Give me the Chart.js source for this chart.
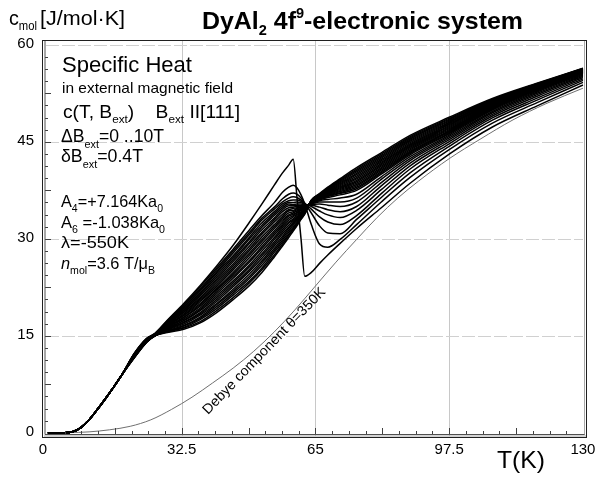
<!DOCTYPE html>
<html><head><meta charset="utf-8">
<script src="https://cdn.jsdelivr.net/npm/chart.js"></script>
<style>html,body{margin:0;padding:0;background:#fff;}#wrap{width:598px;height:477px;position:relative;}</style>
</head><body><div id="wrap"><canvas id="c" width="598" height="477"></canvas></div>
<script>
// ---------------- data ----------------
const xTickValues = [0, 32.5, 65, 97.5, 130];
const xTickLabels = ['0', '32.5', '65', '97.5', '130'];
const yTickValues = [0, 15, 30, 45, 60];
const yTickLabels = ['0', '15', '30', '45', '60'];
const fieldValues = [0,0.4,0.8,1.2,1.6,2.0,2.4,2.8,3.2,3.6,4.0,4.4,4.8,5.2,5.6,6.0,6.4,6.8,7.2,7.6,8.0,8.4,8.8,9.2,9.6,10.0];

// common low-temperature part (all fields coincide)
const lowT = [0, 4, 6, 8, 10, 12, 14, 16, 18];
const lowC = [0, 0, 0.15, 0.8, 2.0, 3.6, 5.3, 7.1, 9.0];

// temperatures for the field dependent part
const gridT = [21, 24, 26, 29, 33, 37, 41, 45, 49, 52, 55, 57, 58.5, 59.6, 60.5, 61.5, 62.4, 64, 66, 68, 71, 75, 81, 88, 97.5, 108, 119, 130];

const c00 = [12.3,14.6,15.4,17.4,20.0,22.8,25.8,29.0,32.6,35.4,38.3,40.2,41.4,42.3,36.5,30.0,24.2,24.8,26.2,27.5,29.3,31.6,34.8,38.6,43.1,47.3,50.6,53.8];
const c04 = [12.27,14.58,15.3,17.3,19.8,22.6,25.5,28.4,31.4,33.6,35.6,37.2,38.0,38.3,37.9,36.8,35.4,32.2,29.2,28.7,29.9,32.2,35.7,39.5,43.8,47.9,51.1,54.2];
const c08 = [12.24,14.55,15.3,17.3,19.7,22.3,25.2,28.1,31.0,33.2,34.9,36.2,36.9,37.1,36.9,36.3,35.5,34.0,32.0,30.9,30.8,33.0,36.4,40.2,44.3,48.35,51.5,54.5];
const c12 = [12.22,14.53,15.3,17.2,19.5,22.1,24.9,27.8,30.7,32.9,34.6,35.7,36.3,36.5,36.4,36.0,35.5,34.6,33.4,32.6,32.2,33.6,37.0,40.8,44.7,48.7,51.8,54.75];
const c16 = [12.19,14.5,15.3,17.1,19.4,21.9,24.7,27.4,30.3,32.5,34.2,35.4,35.9,36.0,36.0,35.8,35.4,35.0,34.3,33.7,33.3,34.4,37.6,41.3,45.05,49.0,52.1,54.95];
const c20 = [12.16,14.48,15.3,17.0,19.2,21.6,24.4,27.1,30.0,32.1,33.9,35.1,35.6,35.6,35.7,35.6,35.3,35.2,34.9,34.5,34.2,35.0,38.2,41.7,45.35,49.25,52.35,55.15];
const c24 = [12.13,14.46,15.2,16.9,19.0,21.4,24.1,26.8,29.6,31.8,33.6,34.8,35.4,35.3,35.4,35.4,35.2,35.3,35.4,35.2,35.0,35.7,38.7,42.1,45.6,49.5,52.55,55.3];
const c28 = [12.1,14.43,15.2,16.9,18.9,21.2,23.8,26.5,29.3,31.4,33.2,34.5,35.1,35.1,35.2,35.2,35.1,35.4,35.7,35.7,35.7,36.3,39.2,42.4,45.85,49.7,52.75,55.45];
const c32 = [12.08,14.41,15.2,16.8,18.7,20.9,23.5,26.1,28.9,31.0,32.9,34.2,34.8,34.9,35.0,35.1,35.0,35.5,35.9,36.1,36.3,36.9,39.6,42.7,46.05,49.9,52.9,55.6];
const c36 = [12.05,14.38,15.2,16.7,18.6,20.7,23.2,25.8,28.5,30.7,32.6,33.8,34.5,34.7,34.8,35.0,34.9,35.55,36.05,36.4,36.8,37.5,40.0,43.0,46.25,50.05,53.05,55.7];
const c40 = [12.02,14.36,15.2,16.6,18.4,20.5,22.9,25.5,28.2,30.3,32.2,33.5,34.3,34.4,34.7,34.9,34.9,35.6,36.15,36.55,37.0,37.75,40.2,43.2,46.4,50.15,53.12,55.75];
const c44 = [11.99,14.34,15.2,16.6,18.2,20.3,22.6,25.2,27.8,29.9,31.9,33.2,34.0,34.2,34.5,34.7,34.8,35.6,36.21,36.65,37.15,37.97,40.41,43.39,46.56,50.25,53.19,55.79];
const c48 = [11.96,14.31,15.2,16.5,18.1,20.0,22.3,24.8,27.5,29.6,31.6,32.9,33.7,34.0,34.3,34.6,34.7,35.65,36.26,36.74,37.31,38.18,40.61,43.57,46.72,50.36,53.25,55.84];
const c52 = [11.94,14.29,15.1,16.4,17.9,19.8,22.1,24.5,27.1,29.2,31.2,32.6,33.5,33.8,34.1,34.5,34.7,35.7,36.32,36.84,37.46,38.4,40.82,43.76,46.88,50.46,53.32,55.88];
const c56 = [11.91,14.26,15.1,16.3,17.8,19.6,21.8,24.2,26.7,28.8,30.9,32.3,33.2,33.6,34.0,34.4,34.6,35.7,36.38,36.94,37.61,38.62,41.03,43.95,47.04,50.56,53.38,55.92];
const c60 = [11.88,14.24,15.1,16.3,17.6,19.3,21.5,23.9,26.4,28.5,30.6,32.0,32.9,33.4,33.8,34.2,34.5,35.7,36.43,37.03,37.77,38.83,41.23,44.13,47.2,50.67,53.45,55.97];
const c64 = [11.85,14.22,15.1,16.2,17.4,19.1,21.2,23.5,26.0,28.1,30.2,31.7,32.6,33.1,33.6,34.1,34.4,35.75,36.49,37.13,37.92,39.05,41.44,44.32,47.36,50.77,53.51,56.01];
const c68 = [11.82,14.19,15.1,16.1,17.3,18.9,20.9,23.2,25.7,27.7,29.9,31.4,32.4,32.9,33.4,34.0,34.4,35.8,36.55,37.23,38.07,39.27,41.65,44.51,47.52,50.87,53.58,56.05];
const c72 = [11.8,14.17,15.1,16.0,17.1,18.6,20.6,22.9,25.3,27.4,29.5,31.1,32.1,32.7,33.2,33.9,34.3,35.8,36.6,37.32,38.23,39.48,41.85,44.69,47.68,50.98,53.64,56.1];
const c76 = [11.77,14.14,15.1,16.0,17.0,18.4,20.3,22.6,25.0,27.0,29.2,30.8,31.8,32.5,33.1,33.7,34.2,35.8,36.66,37.42,38.38,39.7,42.06,44.88,47.84,51.08,53.71,56.14];
const c80 = [11.74,14.12,15.0,15.9,16.8,18.2,20.0,22.2,24.6,26.6,28.9,30.4,31.6,32.3,32.9,33.6,34.2,35.85,36.72,37.52,38.53,39.92,42.27,45.07,48.0,51.18,53.77,56.18];
const c84 = [11.71,14.1,15.0,15.8,16.6,17.9,19.8,21.9,24.2,26.3,28.5,30.1,31.3,32.1,32.7,33.5,34.1,35.9,36.77,37.61,38.69,40.13,42.47,45.25,48.16,51.29,53.84,56.23];
const c88 = [11.68,14.07,15.0,15.7,16.5,17.7,19.5,21.6,23.9,25.9,28.2,29.8,31.0,31.8,32.5,33.4,34.0,35.9,36.83,37.71,38.84,40.35,42.68,45.44,48.32,51.39,53.9,56.27];
const c92 = [11.66,14.05,15.0,15.7,16.3,17.5,19.2,21.3,23.5,25.5,27.9,29.5,30.7,31.6,32.4,33.2,33.9,35.9,36.89,37.81,38.99,40.57,42.89,45.63,48.48,51.49,53.97,56.31];
const c96 = [11.63,14.02,15.0,15.6,16.2,17.2,18.9,20.9,23.2,25.2,27.5,29.2,30.5,31.4,32.2,33.1,33.9,35.95,36.94,37.9,39.15,40.78,43.09,45.81,48.64,51.6,54.03,56.36];
const c100 = [11.6,14.0,15.0,15.5,16.0,17.0,18.6,20.6,22.8,24.8,27.2,28.9,30.2,31.2,32.0,33.0,33.8,36.0,37.0,38.0,39.3,41.0,43.3,46.0,48.8,51.7,54.1,56.4];

// Debye lattice component, theta = 350 K
const debyeT = [0,5,10,15,20,25,30,35,40,45,50,55,60,65,70,75,80,85,90,97.5,105,113,121,130];
const debyeC = [0,0.02,0.14,0.46,1.0,2.0,3.6,5.5,7.7,10.0,12.6,15.6,19.0,22.7,26.4,29.9,33.3,36.3,38.9,42.4,45.4,48.4,50.9,53.3];

// texts
const titleParts = ['DyAl', '2', ' 4f', '9', '-electronic system'];
const yAxisTitle = ['c', 'mol', '[J/mol\u00B7K]'];
const xAxisTitle = 'T(K)';
const debyeLabel = 'Debye component \u03B8=350K';

// ---------------- chart ----------------
const curves = [c00,c04,c08,c12,c16,c20,c24,c28,c32,c36,c40,c44,c48,c52,c56,c60,c64,c68,c72,c76,c80,c84,c88,c92,c96,c100];
const datasets = curves.map((vals, i) => ({
  label: 'B=' + fieldValues[i] + 'T',
  data: lowT.map((t, j) => ({x: t, y: lowC[j]})).concat(gridT.map((t, j) => ({x: t, y: vals[j]}))),
  borderColor: '#000', borderWidth: 1.5, pointRadius: 0, fill: false,
  cubicInterpolationMode: 'monotone'
}));
datasets.push({
  label: 'Debye',
  data: debyeT.map((t, j) => ({x: t, y: debyeC[j]})),
  borderColor: '#707070', borderWidth: 1, pointRadius: 0, fill: false,
  cubicInterpolationMode: 'monotone'
});

const FONT = '"Liberation Sans", Arial, sans-serif';
function font(size, bold, italic) { return (italic ? 'italic ' : '') + (bold ? 'bold ' : '') + size + 'px ' + FONT; }
// draws a run of text pieces (normal / sub / superscript), optionally fitted to a target width
function drawParts(ctx, x, y, parts, target) {
  let total = 0;
  for (const p of parts) { ctx.font = font(p.s, p.b, p.i); total += ctx.measureText(p.t).width; }
  const k = target ? target / total : 1;
  ctx.save();
  ctx.translate(x, y);
  ctx.scale(k, 1);
  let cx = 0;
  for (const p of parts) {
    ctx.font = font(p.s, p.b, p.i);
    ctx.fillText(p.t, cx, p.dy || 0);
    cx += ctx.measureText(p.t).width;
  }
  ctx.restore();
}

const deco = {
  id: 'deco',
  beforeDraw(chart) {
    const ctx = chart.ctx;
    ctx.save(); ctx.fillStyle = '#fff'; ctx.fillRect(0, 0, chart.width, chart.height); ctx.restore();
  },
  beforeDatasetsDraw(chart) {
    const {ctx, chartArea: a, scales: {x, y}} = chart;
    ctx.save();
    ctx.lineWidth = 1;
    ctx.strokeStyle = '#c8c8c8';
    [32.5, 65, 97.5].forEach(v => {
      const px = Math.round(x.getPixelForValue(v)) + 0.5;
      ctx.beginPath(); ctx.moveTo(px, a.top); ctx.lineTo(px, a.bottom); ctx.stroke();
    });
    ctx.setLineDash([13, 3]);
    ctx.strokeStyle = '#d0d0d0';
    [15, 30, 45, 60].forEach(v => {
      const py = Math.round(y.getPixelForValue(v)) + 0.5;
      ctx.beginPath(); ctx.moveTo(a.left + 3, py); ctx.lineTo(a.right - 2, py); ctx.stroke();
    });
    ctx.restore();
  },
  afterDatasetsDraw(chart) {
    const {ctx, chartArea: a, scales: {x, y}} = chart;
    ctx.save();
    // minor / major ticks
    ctx.strokeStyle = '#404040'; ctx.lineWidth = 1;
    for (let i = 1; i < 32; i++) {
      const v = i * 130 / 32;
      const px = Math.round(x.getPixelForValue(v)) + 0.5;
      const len = (i % 4 === 0) ? 6 : 3;
      ctx.beginPath(); ctx.moveTo(px, a.bottom - 2); ctx.lineTo(px, a.bottom - 2 - len); ctx.stroke();
    }
    for (let i = 1; i < 32; i++) {
      const v = i * 60 / 32;
      const py = Math.round(y.getPixelForValue(v)) + 0.5;
      const len = (i % 4 === 0) ? 6 : 3;
      ctx.beginPath(); ctx.moveTo(a.left + 2, py); ctx.lineTo(a.left + 2 + len, py); ctx.stroke();
    }
    // frame
    ctx.strokeStyle = '#202020'; ctx.lineWidth = 1;
    ctx.strokeRect(a.left - 0.5, a.top - 0.5, a.right - a.left + 2, a.bottom - a.top + 2);
    ctx.strokeStyle = '#505050';
    ctx.beginPath(); ctx.moveTo(a.left + 2, a.top); ctx.lineTo(a.left + 2, a.bottom - 1.5); ctx.lineTo(a.right, a.bottom - 1.5); ctx.stroke();
    ctx.strokeStyle = '#a8a8a8';
    ctx.beginPath(); ctx.moveTo(a.right - 0.5, a.top); ctx.lineTo(a.right - 0.5, a.bottom - 1.5); ctx.stroke();
    ctx.beginPath(); ctx.moveTo(a.left + 1, a.bottom); ctx.lineTo(a.right + 1, a.bottom); ctx.stroke();

    ctx.fillStyle = '#000';
    // tick labels
    ctx.font = font(15);
    ctx.textAlign = 'center'; ctx.textBaseline = 'alphabetic';
    xTickValues.forEach((v, i) => {
      let px = x.getPixelForValue(v);
      if (i === 0) px -= 5;
      ctx.fillText(xTickLabels[i], px, 454);
    });
    ctx.textAlign = 'right';
    yTickValues.forEach((v, i) => {
      ctx.fillText(yTickLabels[i], 34, y.getPixelForValue(v) + 3);
    });
    ctx.textAlign = 'left';
    // axis titles
    drawParts(ctx, 497, 468, [{t: xAxisTitle, s: 24}], 48);
    drawParts(ctx, 9, 25, [{t: yAxisTitle[0], s: 21}, {t: yAxisTitle[1], s: 12, dy: 5}], 28);
    drawParts(ctx, 40, 25, [{t: yAxisTitle[2], s: 21}], 85);
    // title
    drawParts(ctx, 202, 29, [
      {t: titleParts[0], s: 24, b: true}, {t: titleParts[1], s: 14, b: true, dy: 6},
      {t: titleParts[2], s: 24, b: true}, {t: titleParts[3], s: 14, b: true, dy: -11},
      {t: titleParts[4], s: 24, b: true}
    ], 321);
    // annotation block
    drawParts(ctx, 62, 72, [{t: 'Specific Heat', s: 22}], 130);
    drawParts(ctx, 62, 93, [{t: 'in external magnetic field', s: 15}], 171);
    drawParts(ctx, 63, 118, [{t: 'c(T, B', s: 18}, {t: 'ext', s: 11, dy: 5}, {t: ')    B', s: 18}, {t: 'ext', s: 11, dy: 5}, {t: ' II[111]', s: 18}], 177);
    drawParts(ctx, 61, 142, [{t: '\u0394B', s: 18}, {t: 'ext', s: 11, dy: 6}, {t: '=0 ..10T', s: 18}], 103);
    drawParts(ctx, 61, 162, [{t: '\u03B4B', s: 18}, {t: 'ext', s: 11, dy: 6}, {t: '=0.4T', s: 18}], 82);
    drawParts(ctx, 61, 207, [{t: 'A', s: 17}, {t: '4', s: 11, dy: 5}, {t: '=+7.164Ka', s: 17}, {t: '0', s: 11, dy: 5}], 102);
    drawParts(ctx, 61, 228, [{t: 'A', s: 17}, {t: '6', s: 11, dy: 5}, {t: ' =-1.038Ka', s: 17}, {t: '0', s: 11, dy: 5}], 104);
    drawParts(ctx, 61, 248, [{t: '\u03BB=-550K', s: 17}], 68);
    drawParts(ctx, 61, 269, [{t: 'n', s: 17, i: true}, {t: 'mol', s: 11, dy: 5}, {t: '=3.6 T/\u03BC', s: 17}, {t: 'B', s: 11, dy: 5}], 94);
    // rotated Debye label
    ctx.save();
    ctx.translate(208, 415);
    ctx.rotate(-46 * Math.PI / 180);
    drawParts(ctx, 0, 0, [{t: debyeLabel, s: 14}], 170);
    ctx.restore();
    ctx.restore();
  }
};

new Chart(document.getElementById('c'), {
  type: 'line',
  data: {datasets},
  options: {
    responsive: false, devicePixelRatio: 1, animation: false,
    layout: {padding: {left: 43, top: 41, right: 13, bottom: 41}},
    plugins: {legend: {display: false}, tooltip: {enabled: false}, title: {display: false}},
    scales: {
      x: {type: 'linear', min: -1.2, max: 130.5, display: false},
      y: {type: 'linear', min: -0.5, max: 60.6, display: false}
    }
  },
  plugins: [deco]
});
</script>
</body></html>
